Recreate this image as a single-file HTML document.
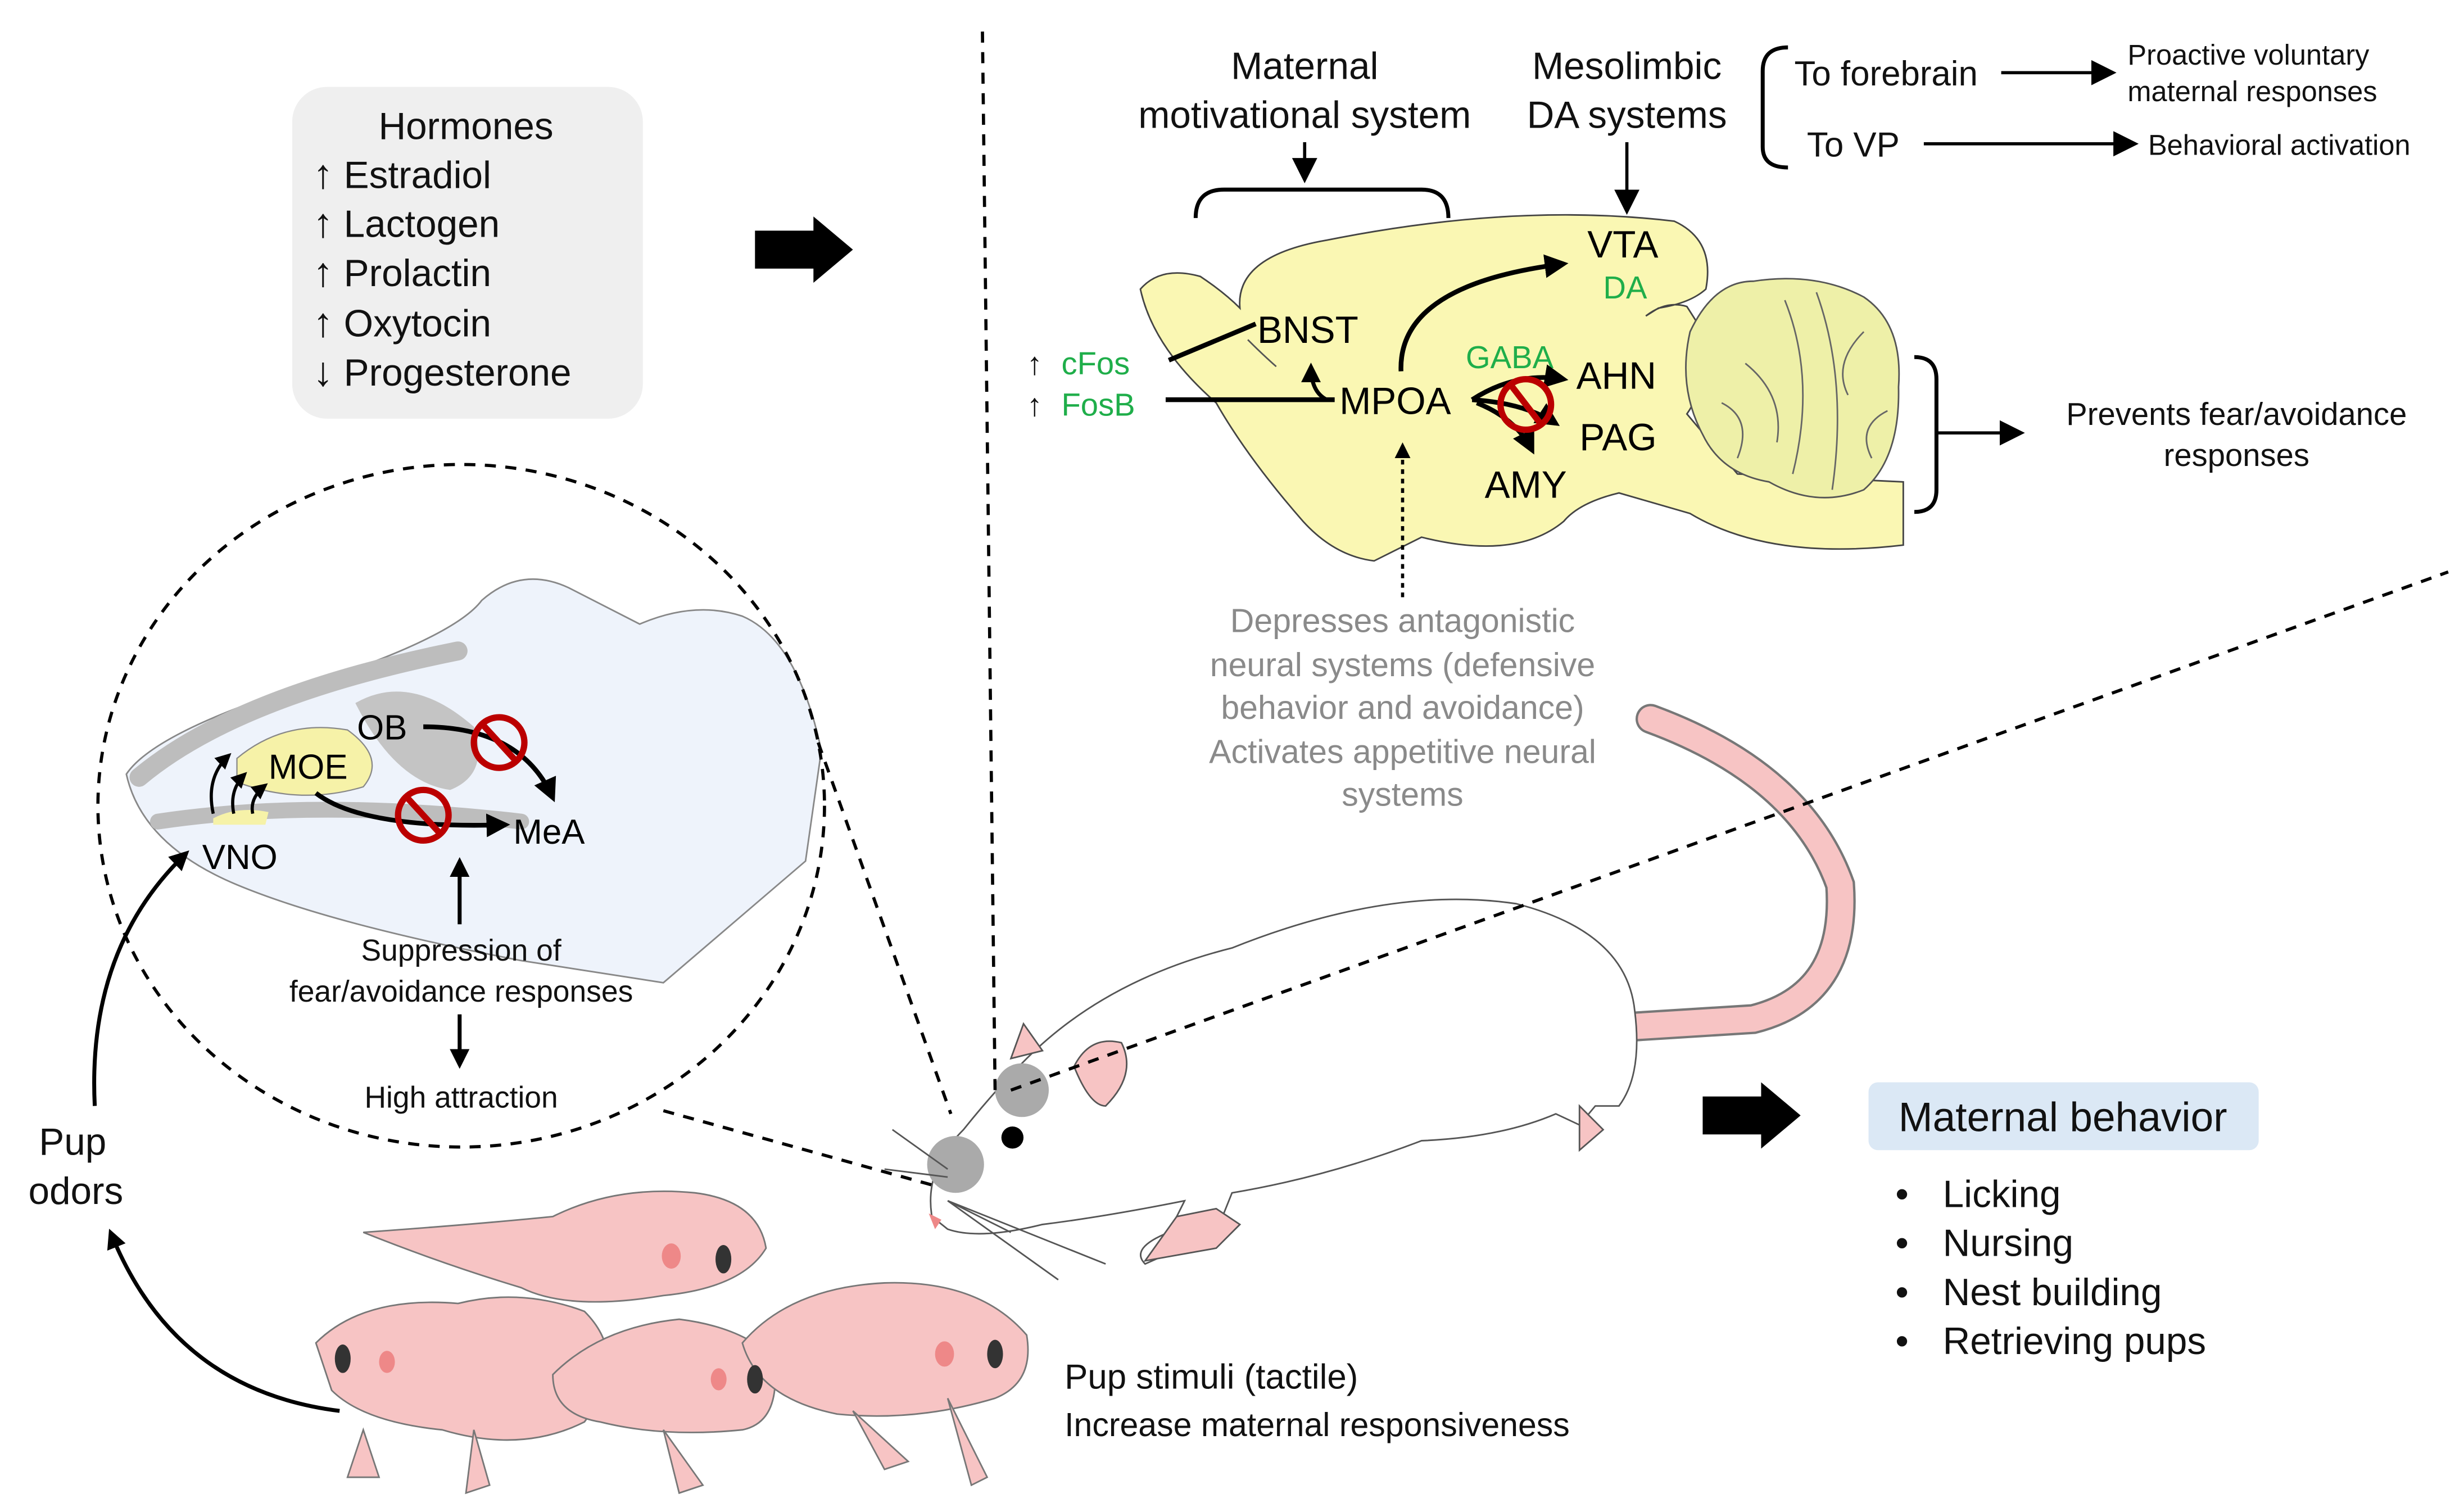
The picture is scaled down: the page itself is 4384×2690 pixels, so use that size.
<!DOCTYPE html>
<html><head><meta charset="utf-8"><style>html,body{margin:0;padding:0;background:#fff}svg{display:block}</style></head>
<body>
<svg width="4384" height="2690" viewBox="0 0 1560 957" preserveAspectRatio="none" xmlns="http://www.w3.org/2000/svg" font-family="Liberation Sans, Arial, sans-serif">
<defs>
<marker id="ah" markerWidth="8" markerHeight="8" refX="6" refY="4" orient="auto" markerUnits="strokeWidth"><path d="M0,0 L8,4 L0,8 Z" fill="#000"/></marker>
<marker id="ah2" markerWidth="5" markerHeight="5" refX="4" refY="2.5" orient="auto" markerUnits="strokeWidth"><path d="M0,0 L5,2.5 L0,5 Z" fill="#000"/></marker>
</defs>
<rect width="1560" height="957" fill="#fff"/>

<!-- Hormones -->
<rect x="185" y="55" width="222" height="210" rx="22" fill="#efefef"/>
<g font-size="24" fill="#111">
<text x="295" y="88" text-anchor="middle">Hormones</text>
<text x="198" y="119"><tspan font-size="26">↑</tspan> Estradiol</text>
<text x="198" y="150"><tspan font-size="26">↑</tspan> Lactogen</text>
<text x="198" y="181"><tspan font-size="26">↑</tspan> Prolactin</text>
<text x="198" y="213"><tspan font-size="26">↑</tspan> Oxytocin</text>
<text x="198" y="244"><tspan font-size="26">↓</tspan> Progesterone</text>
</g>
<!-- big arrows -->
<path d="M478,146 L515,146 L515,137 L540,158 L515,179 L515,170 L478,170 Z" fill="#000"/>
<path d="M1078,694 L1115,694 L1115,685 L1140,706 L1115,727 L1115,718 L1078,718 Z" fill="#000"/>

<!-- top labels -->
<g font-size="24" fill="#111" text-anchor="middle">
<text x="826" y="50">Maternal</text>
<text x="826" y="81">motivational system</text>
<text x="1030" y="50">Mesolimbic</text>
<text x="1030" y="81">DA systems</text>
</g>
<line x1="826" y1="90" x2="826" y2="112" stroke="#000" stroke-width="2" marker-end="url(#ah)"/>
<line x1="1030" y1="90" x2="1030" y2="132" stroke="#000" stroke-width="2" marker-end="url(#ah)"/>
<path d="M757,138 Q757,120 775,120 L900,120 Q917,120 917,138" fill="none" stroke="#000" stroke-width="2.5"/>
<path d="M1132,30 Q1116,30 1116,45 L1116,93 Q1116,106 1132,106" fill="none" stroke="#000" stroke-width="2.5"/>
<text x="1136" y="54" font-size="22" fill="#111">To forebrain</text>
<text x="1144" y="99" font-size="22" fill="#111">To VP</text>
<line x1="1267" y1="46" x2="1336" y2="46" stroke="#000" stroke-width="2" marker-end="url(#ah)"/>
<line x1="1218" y1="91" x2="1350" y2="91" stroke="#000" stroke-width="2" marker-end="url(#ah)"/>
<g font-size="18" fill="#111">
<text x="1347" y="41">Proactive voluntary</text>
<text x="1347" y="64">maternal responses</text>
<text x="1360" y="98">Behavioral activation</text>
</g>

<!-- brain -->
<path d="M722,183 Q735,168 760,175 Q775,185 785,195 Q782,162 840,152 Q960,128 1060,140 Q1086,152 1080,183 Q1070,192 1050,195 L1042,200 Q1055,190 1068,194 L1075,205 Q1090,195 1082,215 L1072,232 Q1080,245 1068,262 L1100,300 L1205,305 L1205,345 Q1120,355 1070,325 L1025,312 Q1000,318 990,330 Q960,355 900,340 L870,355 Q845,352 825,330 Q790,290 770,255 Q730,220 722,183 Z" fill="#faf7b3" stroke="#444" stroke-width="1"/>
<path d="M1070,210 Q1085,178 1110,178 Q1150,172 1180,188 Q1205,205 1202,245 Q1203,290 1180,310 Q1150,322 1120,305 Q1090,300 1078,275 Q1062,245 1070,210 Z" fill="#eef0a8" stroke="#555" stroke-width="1"/>
<g fill="none" stroke="#666" stroke-width="1">
<path d="M1130,190 Q1150,240 1135,300"/><path d="M1150,185 Q1170,240 1160,310"/><path d="M1105,230 Q1130,250 1125,280"/><path d="M1180,210 Q1160,230 1170,250"/><path d="M1195,260 Q1175,270 1185,290"/><path d="M1090,255 Q1110,265 1100,290"/>
</g>
<path d="M790,215 Q800,225 808,232" stroke="#555" fill="none" stroke-width="1"/>
<g font-size="24" fill="#000">
<text x="796" y="217">BNST</text>
<text x="848" y="262">MPOA</text>
<text x="1005" y="163">VTA</text>
<text x="998" y="246">AHN</text>
<text x="1000" y="285">PAG</text>
<text x="940" y="315">AMY</text>
</g>
<g font-size="20" fill="#1fae4a">
<text x="1015" y="189">DA</text>
<text x="928" y="233">GABA</text>
<text x="672" y="237">cFos</text>
<text x="672" y="263">FosB</text>
</g>
<text x="650" y="237" font-size="20" fill="#111">↑</text>
<text x="650" y="263" font-size="20" fill="#111">↑</text>
<line x1="740" y1="228" x2="795" y2="205" stroke="#000" stroke-width="3"/>
<line x1="738" y1="253" x2="845" y2="253" stroke="#000" stroke-width="3"/>
<path d="M840,253 Q830,248 830,232" fill="none" stroke="#000" stroke-width="2.5" marker-end="url(#ah2)"/>
<path d="M887,235 Q885,180 990,167" fill="none" stroke="#000" stroke-width="3" marker-end="url(#ah2)"/>
<path d="M932,253 Q960,235 990,240" fill="none" stroke="#000" stroke-width="3" marker-end="url(#ah2)"/>
<path d="M932,253 Q965,255 985,268" fill="none" stroke="#000" stroke-width="3" marker-end="url(#ah2)"/>
<path d="M935,255 Q960,265 970,285" fill="none" stroke="#000" stroke-width="3" marker-end="url(#ah2)"/>
<circle cx="966" cy="256" r="16" fill="none" stroke="#b00" stroke-width="4"/>
<line x1="956" y1="243" x2="976" y2="269" stroke="#b00" stroke-width="4"/>
<line x1="888" y1="378" x2="888" y2="282" stroke="#000" stroke-width="2" stroke-dasharray="3,3" marker-end="url(#ah2)"/>
<path d="M1212,226 Q1226,226 1226,240 L1226,310 Q1226,324 1212,324" fill="none" stroke="#000" stroke-width="2.5"/>
<line x1="1226" y1="274" x2="1278" y2="274" stroke="#000" stroke-width="2" marker-end="url(#ah)"/>
<g font-size="20" fill="#111" text-anchor="middle"><text x="1416" y="269">Prevents fear/avoidance</text><text x="1416" y="295">responses</text></g>
<g font-size="21" fill="#8a8a8a" text-anchor="middle">
<text x="888" y="400">Depresses antagonistic</text>
<text x="888" y="428">neural systems (defensive</text>
<text x="888" y="455">behavior and avoidance)</text>
<text x="888" y="483">Activates appetitive neural</text>
<text x="888" y="510">systems</text>
</g>

<!-- inset nose -->
<path d="M80,490 Q100,460 220,425 Q290,400 305,380 Q330,358 360,372 L405,395 Q440,380 470,390 Q505,405 520,475 L510,545 L420,622 L330,608 Q210,585 150,560 Q90,535 80,490 Z" fill="#eef3fb" stroke="#888" stroke-width="1"/>
<path d="M88,492 Q150,440 290,412" fill="none" stroke="#bdbdbd" stroke-width="12" stroke-linecap="round"/>
<path d="M100,520 Q200,505 330,520" fill="none" stroke="#bdbdbd" stroke-width="10" stroke-linecap="round"/>
<path d="M225,445 Q260,425 300,460 Q310,490 285,500 Q250,495 225,445 Z" fill="#c4c4c4"/>
<path d="M150,480 Q180,455 220,462 Q245,480 230,498 Q190,510 150,495 Z" fill="#f6f2a8" stroke="#888" stroke-width="0.8"/>
<path d="M135,518 Q150,510 170,514 L168,522 L135,522 Z" fill="#f6f2a8"/>
<g font-size="22" fill="#000"><text x="226" y="468">OB</text><text x="170" y="493">MOE</text><text x="128" y="550">VNO</text><text x="325" y="534">MeA</text></g>
<path d="M268,460 Q330,460 350,505" fill="none" stroke="#000" stroke-width="3" marker-end="url(#ah2)"/>
<path d="M200,502 Q230,525 320,522" fill="none" stroke="#000" stroke-width="3" marker-end="url(#ah2)"/>
<circle cx="316" cy="470" r="16" fill="none" stroke="#b00" stroke-width="4"/><line x1="305" y1="458" x2="327" y2="482" stroke="#b00" stroke-width="4"/>
<circle cx="268" cy="516" r="16" fill="none" stroke="#b00" stroke-width="4"/><line x1="257" y1="504" x2="279" y2="528" stroke="#b00" stroke-width="4"/>
<g fill="none" stroke="#000" stroke-width="2"><path d="M135,515 Q130,492 145,478" marker-end="url(#ah2)"/><path d="M148,515 Q145,500 155,490" marker-end="url(#ah2)"/><path d="M160,515 Q158,505 168,497" marker-end="url(#ah2)"/></g>
<line x1="291" y1="585" x2="291" y2="545" stroke="#000" stroke-width="2.5" marker-end="url(#ah2)"/>
<g font-size="19" fill="#111" text-anchor="middle"><text x="292" y="608">Suppression of</text><text x="292" y="634">fear/avoidance responses</text><text x="292" y="701">High attraction</text></g>
<line x1="291" y1="642" x2="291" y2="674" stroke="#000" stroke-width="2.5" marker-end="url(#ah2)"/>
<path d="M215,893 Q110,880 70,780" fill="none" stroke="#000" stroke-width="2.5" marker-end="url(#ah2)"/>
<path d="M60,700 Q55,600 118,540" fill="none" stroke="#000" stroke-width="2.5" marker-end="url(#ah2)"/>
<g font-size="24" fill="#111" text-anchor="middle"><text x="46" y="731">Pup</text><text x="48" y="762">odors</text></g>

<!-- rat -->
<path d="M1045,455 Q1140,490 1165,560 Q1170,630 1110,645 L1030,650" fill="none" stroke="#777" stroke-width="19" stroke-linecap="round"/>
<path d="M1045,455 Q1140,490 1165,560 Q1170,630 1110,645 L1030,650" fill="none" stroke="#f7c4c4" stroke-width="16" stroke-linecap="round"/>
<path d="M590,770 Q585,740 610,715 Q630,690 650,670 Q700,620 780,600 Q880,560 960,572 Q1030,590 1035,640 Q1040,680 1025,700 L1010,700 L1000,712 L985,705 Q950,720 900,722 Q840,745 780,755 L770,780 L725,800 Q715,790 740,780 L750,760 Q700,770 660,775 Q620,785 600,778 Z" fill="#fff" stroke="#555" stroke-width="1"/>
<path d="M640,670 L648,648 L660,665 Z" fill="#f7c4c4" stroke="#555" stroke-width="1"/>
<path d="M680,675 Q690,655 710,660 Q720,680 700,700 Q690,700 680,675 Z" fill="#f7c4c4" stroke="#555" stroke-width="1"/>
<path d="M745,770 L770,765 L785,775 L770,790 L725,798 Z" fill="#f7c4c4" stroke="#555" stroke-width="1"/>
<path d="M1000,700 L1015,715 L1000,728 Z" fill="#f7c4c4" stroke="#555" stroke-width="1"/>
<circle cx="647" cy="690" r="17" fill="#aaa"/>
<circle cx="605" cy="737" r="18" fill="#aaa"/>
<circle cx="641" cy="720" r="7" fill="#000"/>
<path d="M588,768 L596,772 L592,778 Z" fill="#e88"/>
<g stroke="#555" stroke-width="1" fill="none"><path d="M600,760 L700,800"/><path d="M600,760 L670,810"/><path d="M600,760 L640,780"/><path d="M600,740 L565,715"/><path d="M600,745 L560,740"/></g>

<!-- dashed lines (on top) -->
<line x1="622" y1="20" x2="630" y2="690" stroke="#000" stroke-width="2" stroke-dasharray="7,6"/>
<line x1="640" y1="690" x2="1550" y2="362" stroke="#000" stroke-width="2" stroke-dasharray="7,6"/>
<line x1="518" y1="470" x2="602" y2="705" stroke="#000" stroke-width="2" stroke-dasharray="7,6"/>
<line x1="420" y1="703" x2="590" y2="750" stroke="#000" stroke-width="2" stroke-dasharray="7,6"/>
<ellipse cx="292" cy="510" rx="230" ry="216" fill="none" stroke="#000" stroke-width="2" stroke-dasharray="7,6"/>

<!-- pups -->
<g fill="#f7c4c4" stroke="#777" stroke-width="1">
<path d="M230,780 Q300,775 350,770 Q390,750 440,755 Q480,760 485,790 Q470,815 420,820 Q360,830 330,815 Q280,800 230,780 Z"/>
<path d="M200,850 Q230,820 290,825 Q330,815 370,830 Q400,860 370,900 Q330,920 280,905 Q230,900 210,880 Z"/>
<path d="M350,870 Q380,840 430,835 Q470,840 490,860 Q495,900 470,905 Q420,910 380,900 Q350,895 350,870 Z"/>
<path d="M470,850 Q500,815 560,812 Q620,810 650,845 Q655,875 630,885 Q580,900 530,895 Q480,885 470,850 Z"/>
<path d="M230,905 L220,935 L240,935 Z"/><path d="M300,905 L295,945 L310,940 Z"/><path d="M540,893 L560,930 L575,925 Z"/><path d="M600,885 L615,940 L625,935 Z"/><path d="M420,905 L430,945 L445,940 Z"/>
</g>
<g fill="#333"><ellipse cx="458" cy="797" rx="5" ry="9"/><ellipse cx="217" cy="860" rx="5" ry="9"/><ellipse cx="478" cy="873" rx="5" ry="9"/><ellipse cx="630" cy="857" rx="5" ry="9"/></g>
<g fill="#e88"><ellipse cx="425" cy="795" rx="6" ry="8"/><ellipse cx="245" cy="862" rx="5" ry="7"/><ellipse cx="455" cy="873" rx="5" ry="7"/><ellipse cx="598" cy="857" rx="6" ry="8"/></g>
<g font-size="22" fill="#111"><text x="674" y="879">Pup stimuli (tactile)</text><text x="674" y="909" font-size="21">Increase maternal responsiveness</text></g>

<!-- maternal behavior -->
<rect x="1183" y="685" width="247" height="43" rx="6" fill="#dbe8f5"/>
<text x="1306" y="716" font-size="26" fill="#111" text-anchor="middle">Maternal behavior</text>
<g font-size="24" fill="#111">
<text x="1200" y="764">•</text><text x="1230" y="764">Licking</text>
<text x="1200" y="795">•</text><text x="1230" y="795">Nursing</text>
<text x="1200" y="826">•</text><text x="1230" y="826">Nest building</text>
<text x="1200" y="857">•</text><text x="1230" y="857">Retrieving pups</text>
</g>
</svg>
</body></html>
